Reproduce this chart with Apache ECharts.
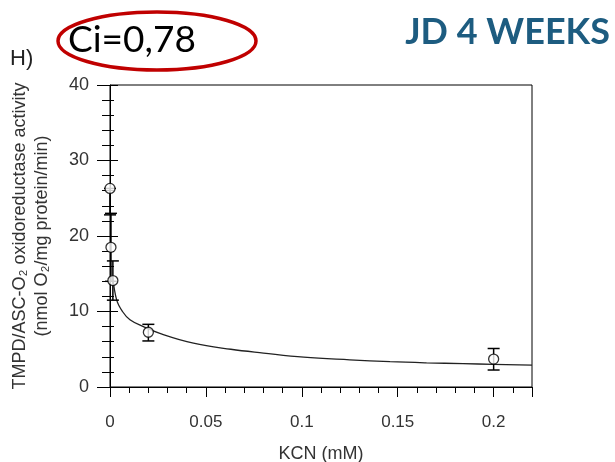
<!DOCTYPE html>
<html><head><meta charset="utf-8">
<script src="https://cdn.jsdelivr.net/npm/echarts@6/dist/echarts.min.js"></script>
<style>html,body{margin:0;padding:0;background:#fff}#c{width:615px;height:462px}</style>
</head><body><div id="c"></div>
<script>
// Data
const kcn = [0, 0.0005, 0.0015, 0.02, 0.2];
const activity = [26.3, 18.5, 14.1, 7.25, 3.7];
const errLow = [22.8, 14.0, 11.5, 6.1, 2.25];
const errHigh = [26.3, 23.0, 16.7, 8.3, 5.1];
const fitX = [0.0015, 0.0035, 0.0065, 0.0104, 0.0174, 0.026, 0.0435, 0.063, 0.08, 0.101, 0.125, 0.146, 0.165, 0.184, 0.2, 0.22];
const fitY = [14.5, 11.5, 10.0, 8.9, 8.0, 7.1, 5.8, 5.0, 4.5, 3.95, 3.6, 3.35, 3.2, 3.1, 3.0, 2.9];
const xTickLabels = ['0', '0.05', '0.1', '0.15', '0.2'];
const yTicks = [0, 10, 20, 30, 40];

const chart = echarts.init(document.getElementById('c'), null, {renderer: 'canvas'});
const pts = kcn.map((x, i) => [x, activity[i]]);
const errs = kcn.map((x, i) => [x, errLow[i], errHigh[i]]);
const fit = fitX.map((x, i) => [x, fitY[i]]);
const ff = 'Liberation Sans';

chart.setOption({
  animation: false,
  grid: {left: 110, right: 83, top: 85, bottom: 75, show: true, borderColor: '#000', borderWidth: 1, outerBoundsMode: 'none', containLabel: false},
  xAxis: [{
    type: 'value', min: 0, max: 0.22, interval: 0.01,
    axisLine: {lineStyle: {color: '#000', width: 1}},
    axisTick: {show: true, length: 6, lineStyle: {color: '#000'}},
    splitLine: {show: false},
    axisLabel: {margin: 27, color: '#333', fontSize: 17, fontFamily: ff, formatter: v => {
      const k = Math.round(v * 100);
      return k % 5 === 0 ? xTickLabels[k / 5] : '';
    }},
    name: 'KCN (mM)', nameLocation: 'middle', nameGap: 58,
    nameTextStyle: {color: '#333', fontSize: 18, fontFamily: ff}
  }, {
    type: 'value', min: 0, max: 0.22, interval: 0.05, position: 'bottom',
    axisLine: {show: false},
    axisTick: {show: true, length: 10, lineStyle: {color: '#000'}},
    axisLabel: {show: false}, splitLine: {show: false}
  }],
  yAxis: [{
    type: 'value', min: yTicks[0], max: yTicks[yTicks.length - 1], interval: 10,
    axisLine: {show: true, lineStyle: {color: '#000', width: 1}},
    axisTick: {show: true, length: 13, lineStyle: {color: '#000'}},
    minorTick: {show: true, splitNumber: 5, length: 8, lineStyle: {color: '#000'}},
    splitLine: {show: false},
    axisLabel: {margin: 21, color: '#333', fontSize: 18, fontFamily: ff},
    name: 'TMPD/ASC-O\u2082 oxidoreductase activity\n(nmol O\u2082/mg protein/min)',
    nameLocation: 'middle', nameRotate: 90, nameGap: 57,
    nameTextStyle: {color: '#333', fontSize: 18, lineHeight: 22, fontFamily: ff}
  }, {
    type: 'value', min: 0, max: 40, interval: 10, position: 'left',
    axisLine: {show: false},
    axisTick: {show: true, inside: true, length: 8, lineStyle: {color: '#000'}},
    minorTick: {show: true, splitNumber: 5, length: 4, lineStyle: {color: '#000'}},
    axisLabel: {show: false}, splitLine: {show: false}
  }],
  series: [{
    type: 'line', data: fit, smooth: 0.4, showSymbol: false, symbol: 'none',
    lineStyle: {color: '#222', width: 1.3}, z: 2
  }, {
    type: 'custom', data: errs, z: 3,
    renderItem: (params, api) => {
      const x = api.value(0);
      const lo = api.coord([x, api.value(1)]);
      const hi = api.coord([x, api.value(2)]);
      const w = 6;
      const st = {stroke: '#000', lineWidth: 1.5};
      return {type: 'group', children: [
        {type: 'line', shape: {x1: lo[0], y1: lo[1], x2: hi[0], y2: hi[1]}, style: st},
        {type: 'line', shape: {x1: lo[0]-w, y1: lo[1], x2: lo[0]+w, y2: lo[1]}, style: st},
        {type: 'line', shape: {x1: hi[0]-w, y1: hi[1], x2: hi[0]+w, y2: hi[1]}, style: st}
      ]};
    }
  }, {
    type: 'scatter', data: pts, symbol: 'circle', symbolSize: 10, z: 4,
    itemStyle: {color: '#fff', borderColor: '#000', borderWidth: 1.3}
  }],
  graphic: [
    {type: 'ellipse', shape: {cx: 157, cy: 41, rx: 99, ry: 29}, style: {fill: 'none', stroke: '#c00000', lineWidth: 3.5}},
    {type: 'text', left: 68, top: 22, style: {text: 'Ci=0,78', fontSize: 37, fontFamily: 'Lato', fill: '#000'}},
    {type: 'text', right: 5, top: 14, style: {text: 'JD 4 WEEKS', fontSize: 36, fontWeight: 'bold', fontFamily: 'Lato', fill: '#1d5c80', shadowColor: 'rgba(0,0,0,0.35)', shadowBlur: 3, shadowOffsetX: 1.5, shadowOffsetY: 2}},
    {type: 'text', left: 10, top: 48, style: {text: 'H)', fontSize: 22, fontFamily: ff, fill: '#222'}}
  ]
});
</script></body></html>
